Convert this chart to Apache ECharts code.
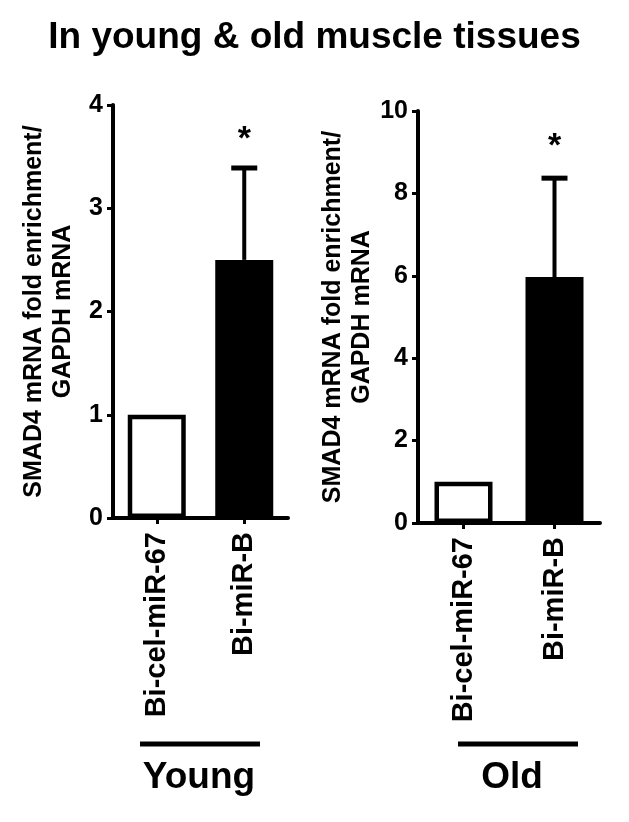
<!DOCTYPE html>
<html>
<head>
<meta charset="utf-8">
<script src="https://cdn.jsdelivr.net/npm/echarts@6/dist/echarts.min.js"></script>
<style>
html,body{margin:0;padding:0;background:#fff;}
#chart{width:629px;height:822px;}
</style>
</head>
<body>
<div id="chart"></div>
<script>
// ---- data ----
const categories = ['Bi-cel-miR-67', 'Bi-miR-B'];
const youngMeans = [1, 2.5];
const youngSEM = [0, 0.89];
const oldMeans = [1, 5.97];
const oldSEM = [0, 2.4];
const significance = ['', '*'];
const youngTicks = { min: 0, max: 4, interval: 1 };
const oldTicks = { min: 0, max: 10, interval: 2 };
const groupNames = ['Young', 'Old'];
const titleText = 'In young & old muscle tissues';
const yName = 'SMAD4 mRNA fold enrichment/\nGAPDH mRNA';

const FONT = '"Liberation Sans", Arial, Helvetica, sans-serif';
const chart = echarts.init(document.getElementById('chart'), null, { renderer: 'canvas' });

function yAxisCfg(gi, t, gap) {
  return {
    type: 'value', gridIndex: gi, min: t.min, max: t.max, interval: t.interval,
    name: yName, nameLocation: 'middle', nameRotate: 90, nameGap: gap,
    nameTextStyle: { fontFamily: FONT, fontWeight: 'bold', fontSize: 25, color: '#000', lineHeight: 29, align: 'center' },
    axisLine: { show: true, lineStyle: { color: '#000', width: 4 } },
    axisTick: { show: true, length: 6, lineStyle: { color: '#000', width: 3 } },
    axisLabel: { margin: 10, fontFamily: FONT, fontWeight: 'bold', fontSize: 25, color: '#000' },
    splitLine: { show: false }
  };
}
function xAxisCfg(gi) {
  return {
    type: 'category', gridIndex: gi, data: categories, boundaryGap: true,
    axisLine: { show: true, lineStyle: { color: '#000', width: 4 } },
    axisTick: { show: true, alignWithLabel: true, length: 6, lineStyle: { color: '#000', width: 3 } },
    axisLabel: { rotate: 90, margin: 14, fontFamily: FONT, fontWeight: 'bold', fontSize: 29, color: '#000', interval: 0 }
  };
}
function barSeries(gi, means) {
  return {
    type: 'bar', xAxisIndex: gi, yAxisIndex: gi, barWidth: 58,
    data: means.map((v, i) => ({
      value: v,
      itemStyle: i === 0
        ? { color: '#fff', borderColor: '#000', borderWidth: 4.5 }
        : { color: '#000', borderColor: '#000', borderWidth: 4.5 }
    })),
    z: 3
  };
}
function errSeries(gi, means, sem, gapAbove) {
  return {
    type: 'custom', xAxisIndex: gi, yAxisIndex: gi, z: 4,
    data: means.map((v, i) => [i, v, v + sem[i]]),
    renderItem: function (params, api) {
      const i = api.value(0);
      const base = api.coord([i, api.value(1)]);
      const top = api.coord([i, api.value(2)]);
      const children = [];
      if (api.value(2) > api.value(1)) {
        children.push({ type: 'line', shape: { x1: base[0], y1: base[1], x2: top[0], y2: top[1] }, style: { stroke: '#000', lineWidth: 4 } });
        children.push({ type: 'line', shape: { x1: top[0] - 13, y1: top[1], x2: top[0] + 13, y2: top[1] }, style: { stroke: '#000', lineWidth: 5 } });
      }
      const s = significance[params.dataIndex];
      if (s) {
        children.push({ type: 'text', style: { text: s, x: top[0], y: top[1] - gapAbove, align: 'center', verticalAlign: 'middle', font: 'bold 34px ' + FONT, fill: '#000' } });
      }
      return { type: 'group', children: children };
    }
  };
}

chart.setOption({
  animation: false,
  backgroundColor: '#fff',
  title: { text: titleText, left: 'center', top: 14, textStyle: { fontFamily: FONT, fontWeight: 'bold', fontSize: 37, color: '#000' } },
  grid: [
    { left: 113, width: 175, top: 105, height: 413 },
    { left: 418, width: 182, top: 111, height: 412 }
  ],
  xAxis: [xAxisCfg(0), xAxisCfg(1)],
  yAxis: [yAxisCfg(0, youngTicks, 35), yAxisCfg(1, oldTicks, 41)],
  series: [
    barSeries(0, youngMeans), errSeries(0, youngMeans, youngSEM, 28),
    barSeries(1, oldMeans), errSeries(1, oldMeans, oldSEM, 32)
  ],
  graphic: [
    { type: 'line', shape: { x1: 140, y1: 744, x2: 260, y2: 744 }, style: { stroke: '#000', lineWidth: 5 } },
    { type: 'line', shape: { x1: 458, y1: 744, x2: 578, y2: 744 }, style: { stroke: '#000', lineWidth: 5 } },
    { type: 'text', x: 199, y: 778, style: { text: groupNames[0], align: 'center', verticalAlign: 'middle', font: 'bold 37px ' + FONT, fill: '#000' } },
    { type: 'text', x: 512, y: 778, style: { text: groupNames[1], align: 'center', verticalAlign: 'middle', font: 'bold 37px ' + FONT, fill: '#000' } }
  ]
});
</script>
</body>
</html>
